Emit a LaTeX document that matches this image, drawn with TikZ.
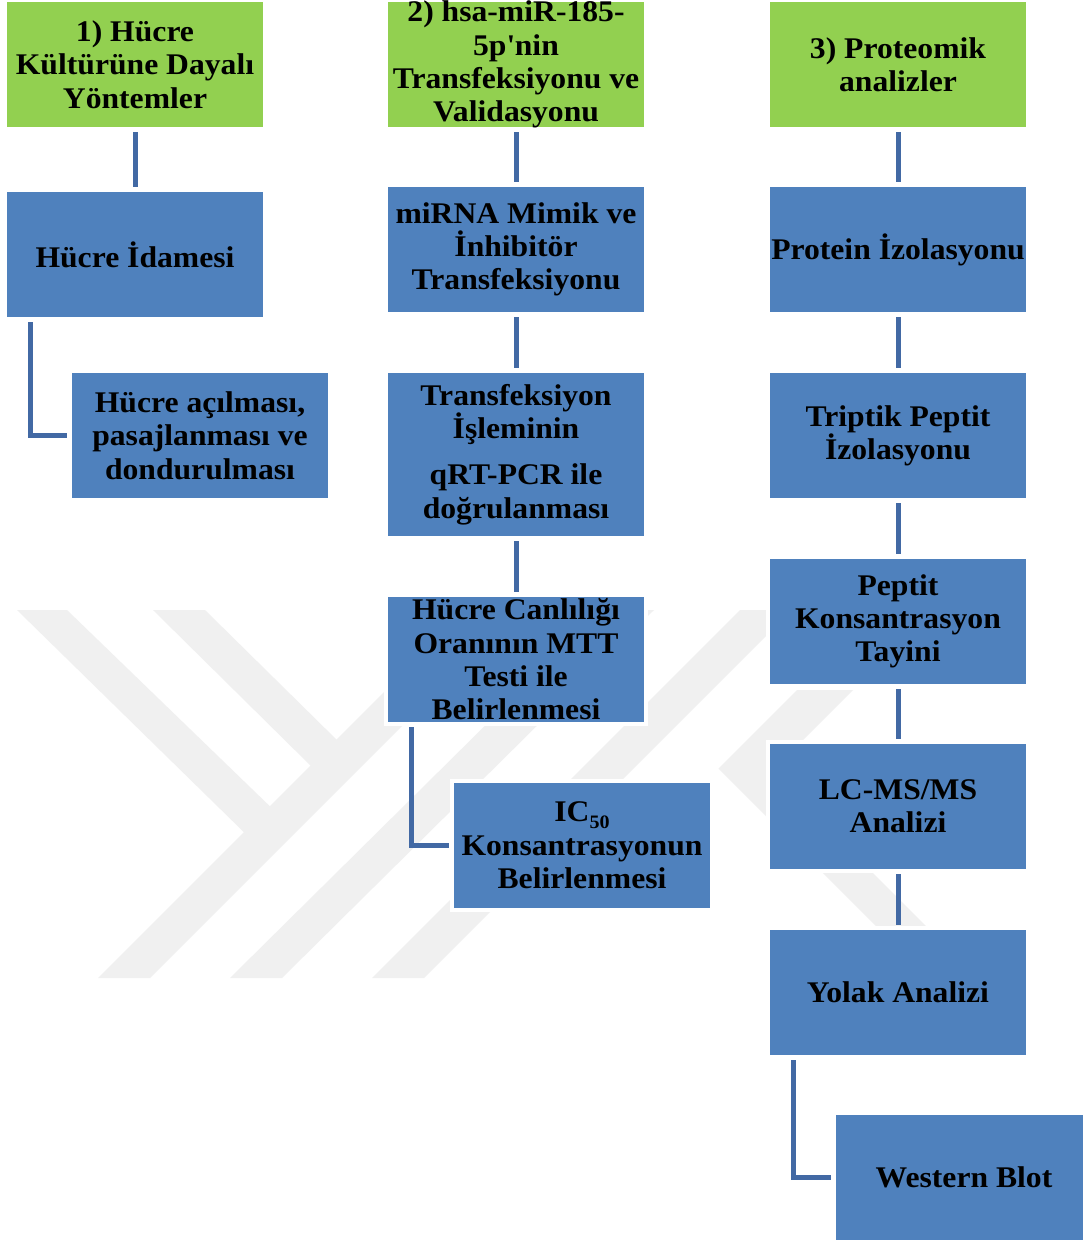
\documentclass[tikz,border=0pt]{standalone}
\usepackage{fontspec}
\setmainfont{Liberation Serif}[FakeStretch=1.055]
\usetikzlibrary{calc}
\definecolor{boxblue}{HTML}{4F81BD}
\definecolor{boxgreen}{HTML}{92D050}
\definecolor{connblue}{HTML}{4269A4}
\definecolor{wmgray}{HTML}{F0F0F0}
\newcommand\sq{\XeTeXglyph\XeTeXcharglyph"27\relax}
\newcommand\mysub[1]{\raisebox{-7pt}{\fontsize{19}{19}\selectfont #1}}
\begin{document}
\begin{tikzpicture}[x=1pt,y=-1pt,
  box/.style={fill=boxblue, draw=white, line width=4pt, minimum width=260pt,
    minimum height=129pt, inner sep=0pt, outer sep=0pt, align=center,
    font=\bfseries\fontsize{30}{33.3}\selectfont},
  gbox/.style={box, fill=boxgreen},
  conn/.style={draw=connblue, line width=5pt, shorten <=3pt, shorten >=3pt},
  wm/.style={fill=wmgray, draw=none}]
\useasboundingbox[fill=white] (0,0) rectangle (1083,1240);
% watermark
\fill[wm] (17,610) -- (67,610) -- (282,818) -- (256,844) -- cycle;
\fill[wm] (153,610) -- (205,610) -- (348.5,751.4) -- (322.6,777.5) -- cycle;
\fill[wm] (98,978) -- (150,978) -- (518,610) -- (466,610) -- cycle;
\fill[wm] (230,978) -- (282,978) -- (654,610) -- (602,610) -- cycle;
\fill[wm] (372,978) -- (424,978) -- (792,610) -- (740,610) -- cycle;
\fill[wm] (797,690) -- (853,690) -- (771.5,771.5) -- (978,978) -- (928,978) -- (718.5,768.5) -- cycle;
% column 1
\node[gbox] (g1) at (135,64.5) {1) Hücre\\Kültürüne Dayalı\\Yöntemler};
\node[box] (n11) at (135,254.5) {Hücre İdamesi};
\node[box] (n12) at (200,435.5) {Hücre açılması,\\pasajlanması ve\\dondurulması};
% column 2
\node[gbox] (g2) at (516,64.5) {2) hsa-miR-185-\\5p\sq nin\\Transfeksiyonu ve\\Validasyonu};
\node[box] (n21) at (516,249.5) {miRNA Mimik ve\\İnhibitör\\Transfeksiyonu};
\node[box, minimum height=167pt] (n22) at (516,454.5) {Transfeksiyon\\İşleminin\\[13pt]qRT-PCR ile\\doğrulanması};
\node[box] (n23) at (516,659.5) {Hücre Canlılığı\\Oranının MTT\\Testi ile\\Belirlenmesi};
\node[box] (n24) at (582,845.5) {IC\mysub{50}\\Konsantrasyonun\\Belirlenmesi};
% column 3
\node[gbox] (g3) at (898,64.5) {3) Proteomik\\analizler};
\node[box] (n31) at (898,249.5) {Protein İzolasyonu};
\node[box] (n32) at (898,435.5) {Triptik Peptit\\İzolasyonu};
\node[box] (n33) at (898,621.5) {Peptit\\Konsantrasyon\\Tayini};
\node[box] (n34) at (898,806.5) {LC-MS/MS\\Analizi};
\node[box] (n35) at (898,992.5) {Yolak Analizi};
\node[box] (n36) at (964,1177.5) {Western Blot};
% connectors
\draw[conn] (g1) -- (n11);
\draw[conn] ([xshift=25pt]n11.south west) |- (n12.west);
\draw[conn] (g2) -- (n21);
\draw[conn] (n21) -- (n22);
\draw[conn] (n22) -- (n23);
\draw[conn] ([xshift=25pt]n23.south west) |- (n24.west);
\draw[conn] (g3) -- (n31);
\draw[conn] (n31) -- (n32);
\draw[conn] (n32) -- (n33);
\draw[conn] (n33) -- (n34);
\draw[conn] (n34) -- (n35);
\draw[conn] ([xshift=25pt]n35.south west) |- (n36.west);
\end{tikzpicture}
\end{document}
